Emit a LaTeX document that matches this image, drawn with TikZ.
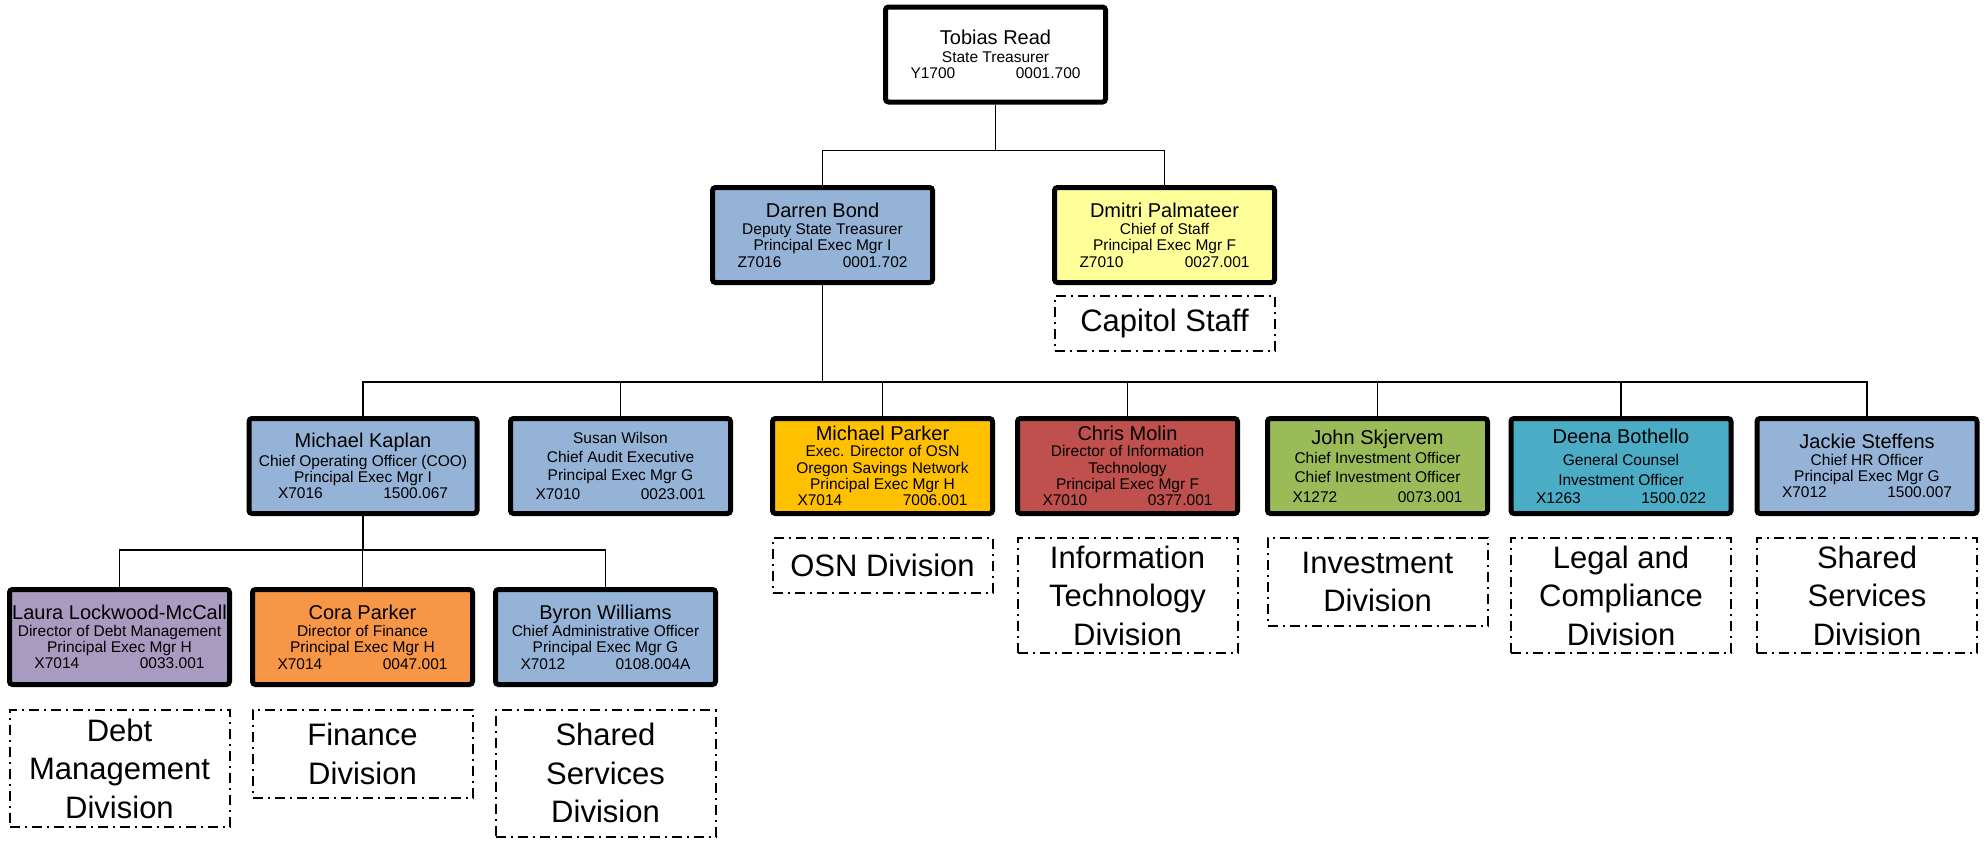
\documentclass[tikz,border=0pt]{standalone}
\usepackage{fontspec}
\setmainfont{Liberation Sans}
\usepackage{xcolor}
\usepackage{tikz}
\usetikzlibrary{positioning}
\definecolor{slate}{HTML}{95B3D7}
\definecolor{paleyellow}{HTML}{FFFF99}
\definecolor{gold}{HTML}{FFC000}
\definecolor{brick}{HTML}{C0504D}
\definecolor{olive}{HTML}{9BBB59}
\definecolor{teal}{HTML}{4BACC6}
\definecolor{lilac}{HTML}{A99AC0}
\definecolor{tangerine}{HTML}{F79646}
\newcommand{\namefont}{\fontsize{20}{22}\selectfont}
\newcommand{\subfont}{\fontsize{15.5}{16.3}\selectfont}
\newcommand{\unitfont}{\fontsize{31}{38.5}\selectfont}
\newcommand{\ids}[2]{\makebox[170pt]{#1\hfill#2}}
\tikzset{staff/.style={rectangle,draw,line width=5pt,rounded corners=3pt,minimum width=220pt,minimum height=95pt,inner sep=0pt,align=center,font=\subfont},
         unit/.style={rectangle,draw,line width=2pt,dash pattern=on 10pt off 5pt on 2pt off 5pt,minimum width=220pt,inner sep=0pt,align=center,font=\unitfont},
         link/.style={draw,line width=1.5pt}}

\begin{document}
\begin{tikzpicture}[x=1pt,y=-1pt]
    \useasboundingbox (0,0) rectangle (1986,841);
    % top
    \node (treas) [staff, fill=white] at (995.5,54.5) {{\namefont Tobias Read}\\[1pt] State Treasurer\\ \ids{Y1700}{0001.700}};
    \node (deputy) [staff, fill=slate] at (822.5,235) {{\namefont Darren Bond}\\[1pt] Deputy State Treasurer\\ Principal Exec Mgr I\\ \ids{Z7016}{0001.702}};
    \node (chief) [staff, fill=paleyellow] at (1164.5,235) {{\namefont Dmitri Palmateer}\\[1pt] Chief of Staff\\ Principal Exec Mgr F\\ \ids{Z7010}{0027.001}};
    \node (capitol) [unit, minimum height=55pt, below=10pt of chief] {Capitol Staff};
    % deputy's reports
    \node (coo) [staff, fill=slate, minimum width=228pt] at (363,466) {{\namefont Michael Kaplan}\\[2.5pt] Chief Operating Officer (COO)\\ Principal Exec Mgr I\\ \ids{X7016}{1500.067}};
    \node (audit) [staff, fill=slate] at (620.5,466) {Susan Wilson\\[2.4pt] Chief Audit Executive\\[2.4pt] Principal Exec Mgr G\\[2.4pt] \ids{X7010}{0023.001}};
    \node (osn) [staff, fill=gold] at (882.5,466) {{\namefont Michael Parker}\\ Exec. Director of OSN\\ Oregon Savings Network\\ Principal Exec Mgr H\\ \ids{X7014}{7006.001}};
    \node (cio) [staff, fill=brick] at (1127.5,466) {{\namefont Chris Molin}\\ Director of Information\\ Technology\\ Principal Exec Mgr F\\ \ids{X7010}{0377.001}};
    \node (invest) [staff, fill=olive] at (1377.5,466) {{\namefont John Skjervem}\\[3pt] Chief Investment Officer\\[3pt] Chief Investment Officer\\[3pt] \ids{X1272}{0073.001}};
    \node (counsel) [staff, fill=teal] at (1621,466) {{\namefont Deena Bothello}\\[6pt] General Counsel\\[4pt] Investment Officer\\[1pt] \ids{X1263}{1500.022}};
    \node (hr) [staff, fill=slate] at (1867,466) {{\namefont Jackie Steffens}\\ Chief HR Officer\\ Principal Exec Mgr G\\ \ids{X7012}{1500.007}};
    \node (osndiv) [unit, minimum height=55pt, below=21pt of osn] {OSN Division};
    \node (itdiv) [unit, minimum height=115pt, below=21pt of cio] {Information\\ Technology\\ Division};
    \node (investdiv) [unit, minimum height=88pt, below=21pt of invest] {Investment\\ Division};
    \node (legaldiv) [unit, minimum height=115pt, below=21pt of counsel] {Legal and\\ Compliance\\ Division};
    \node (hrdiv) [unit, minimum height=115pt, below=21pt of hr] {Shared\\ Services\\ Division};
    % coo's reports
    \node (debt) [staff, fill=lilac] at (119.5,637) {{\namefont Laura Lockwood-McCall}\\ Director of Debt Management\\ Principal Exec Mgr H\\ \ids{X7014}{0033.001}};
    \node (finance) [staff, fill=tangerine] at (362.5,637) {{\namefont Cora Parker}\\[1pt] Director of Finance\\ Principal Exec Mgr H\\ \ids{X7014}{0047.001}};
    \node (admin) [staff, fill=slate] at (605.5,637) {{\namefont Byron Williams}\\[1pt] Chief Administrative Officer\\ Principal Exec Mgr G\\ \ids{X7012}{0108.004A}};
    \node (debtdiv) [unit, minimum height=117pt, below=22pt of debt] {Debt\\ Management\\ Division};
    \node (findiv) [unit, minimum height=88pt, below=22pt of finance] {Finance\\ Division};
    \node (admindiv) [unit, minimum height=126.5pt, below=22pt of admin] {Shared\\ Services\\ Division};
    % connectors
    \foreach \x in {deputy,chief} {\draw[link] (treas.south) -- ++(0,46) -| (\x.north);}
    \foreach \x in {coo,audit,osn,cio,invest,counsel,hr} {\draw[link] (deputy.south) -- ++(0,97) -| (\x.north);}
    \foreach \x in {debt,finance,admin} {\draw[link] (coo.south) -- ++(0,34) -| (\x.north);}
\end{tikzpicture}
\end{document}
